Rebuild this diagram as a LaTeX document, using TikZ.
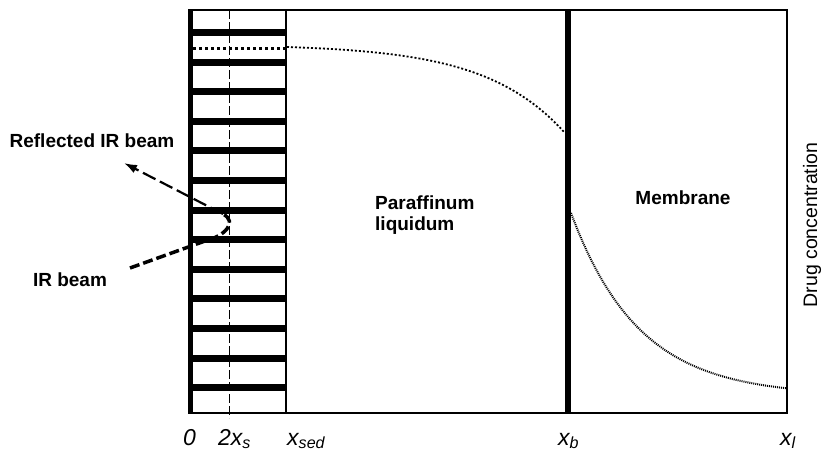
\documentclass[tikz,border=0pt]{standalone}
\usepackage{fontspec}
\setmainfont{Liberation Sans}
\usetikzlibrary{arrows.meta, positioning, calc}
\newcommand{\xsub}[1]{x\textsubscript{#1}}

\begin{document}
\begin{tikzpicture}[
  x=1pt, y=-1pt,
  frame/.style={line width=1.6pt, black},
  wall/.style={line width=5pt, black},
  bar/.style={line width=7pt, black},
  label/.style={font=\fontsize{19}{21}\selectfont\bfseries, inner sep=0pt},
  axislab/.style={font=\fontsize{23}{26}\selectfont\itshape, inner sep=0pt, anchor=base west},
  beamin/.style={dash pattern=on 10pt off 4pt, line width=3.5pt},
  beamout/.style={dash pattern=on 14pt off 5pt, line width=2.2pt,
                  -{Latex[length=13pt, width=9pt]}},
  conc/.style={line width=1.8pt, dash pattern=on 2pt off 2pt}
]
  \useasboundingbox (0,0) rectangle (822,455);

  % crystal bars and cell frame
  \foreach \k in {0,...,12}
    \draw[bar] (190,{32.5+29.6*\k}) -- (286,{32.5+29.6*\k});
  \draw[frame] (188,10) -- (787,10) -- (787,413) -- (188,413);
  \draw[line width=1.2pt] (286,10) -- (286,413);
  \draw[line width=0.8pt, dash pattern=on 9pt off 3pt] (229,10) -- (229,418);
  \draw[wall] (190,10) -- (190,413);
  \draw[wall, line width=6pt] (568,10) -- (568,413);

  % concentration profile
  \draw[line width=3pt, dash pattern=on 3pt off 3pt] (193,48) -- (286,48);
  \draw[conc] plot[domain=287:565, samples=60]
    (\x, {47+86*(exp(3.5*(\x-287)/278)-1)/(exp(3.5)-1)});
  \draw[line width=2pt, dash pattern=on 1pt off 1pt] plot[domain=571:787, samples=60]
    (\x, {396-183*exp(-(\x-571)/68)});

  % IR beam
  \coordinate (beamstart) at (130,268);
  \coordinate (beamknee) at (205,241);
  \coordinate (apex) at (223,214);
  \coordinate (beamend) at (124,163);
  \draw[beamin] (beamstart) -- (beamknee) .. controls (225,236) and (238,222) .. (apex);
  \draw[beamout] (apex) -- (beamend);

  \node[label] (refl) at (92,141) {Reflected IR beam};
  \node[label] (irbeam) at (70,280) {IR beam};
  \node[label, align=left, anchor=west] (paraffin) at (375,215) {Paraffinum\\liquidum};
  \node[label, anchor=base] (membrane) at (683,204) {Membrane};
  \node[font=\fontsize{19.5}{21}\selectfont, inner sep=0pt, rotate=90] (drug) at (812,225) {Drug concentration};

  \node[axislab] (zero) at (183,445) {0};
  \node[axislab] (twoxs) at (218,445) {2\xsub{s}};
  \node[axislab] (xsed) at (287,445) {\xsub{sed}};
  \node[axislab] (xb) at (558,445) {\xsub{b}};
  \node[axislab] (xl) at (780,445) {\xsub{l}};
\end{tikzpicture}
\end{document}
